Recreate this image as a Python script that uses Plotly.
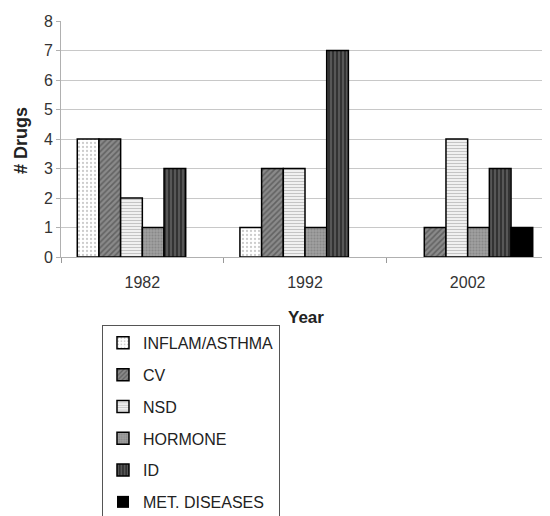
import plotly.graph_objects as go

years = ["1982", "1992", "2002"]
series_names = ["INFLAM/ASTHMA", "CV", "NSD", "HORMONE", "ID", "MET. DISEASES"]
inflam = [4, 1, 0]
cv = [4, 3, 1]
nsd = [2, 3, 4]
hormone = [1, 1, 1]
id_vals = [3, 7, 3]
met = [0, 0, 1]
y_ticks = [0, 1, 2, 3, 4, 5, 6, 7, 8]

values = [inflam, cv, nsd, hormone, id_vals, met]
patterns = [
    dict(shape=".", bgcolor="#ffffff", fgcolor="#9a9a9a", size=4, solidity=0.25),
    dict(shape="/", bgcolor="#8a8a8a", fgcolor="#3a3a3a", size=4, solidity=0.4),
    dict(shape="-", bgcolor="#ffffff", fgcolor="#8a8a8a", size=3, solidity=0.5),
    dict(shape=".", bgcolor="#a0a0a0", fgcolor="#707070", size=3, solidity=0.4),
    dict(shape="|", bgcolor="#333333", fgcolor="#9a9a9a", size=4, solidity=0.35),
    dict(shape="", bgcolor="#000000", fgcolor="#000000", size=4, solidity=0.3),
]
solid = ["#ffffff", "#8a8a8a", "#ffffff", "#a0a0a0", "#333333", "#000000"]

fig = go.Figure()
for name, vals, pat, col in zip(series_names, values, patterns, solid):
    fig.add_trace(go.Bar(
        x=years, y=vals, name=name, legendgroup=name,
        marker=dict(color=col, pattern=pat,
                    line=dict(color="#000000", width=[1.5 if v > 0 else 0 for v in vals])),
    ))

font_family = "Liberation Sans, Arial, sans-serif"
fig.update_layout(
    width=550, height=516,
    margin=dict(l=53, r=9, t=13, b=267, autoexpand=False),
    paper_bgcolor="white", plot_bgcolor="white",
    font=dict(family=font_family, size=16, color="#333333"),
    barmode="group", bargap=0.2, bargroupgap=0,
    showlegend=True,
    legend=dict(
        x=0.084, xanchor="left", y=-0.288, yanchor="top",
        bgcolor="white", bordercolor="#555555", borderwidth=1,
        font=dict(family=font_family, size=16, color="#222222"),
        traceorder="grouped", tracegroupgap=8, itemwidth=30,
    ),
    xaxis=dict(
        showline=True, linecolor="#b0b0b0", linewidth=1,
        ticks="outside", tickson="boundaries", ticklen=5, tickcolor="#999999",
        showgrid=False, tickfont=dict(size=16, color="#333333"),
        ticklabelstandoff=11,
    ),
    yaxis=dict(
        range=[0, 8], tickvals=y_ticks,
        showline=True, linecolor="#b0b0b0", linewidth=1,
        ticks="outside", ticklen=4, tickcolor="#b0b0b0",
        showgrid=True, gridcolor="#c8c8c8", gridwidth=1,
        zeroline=False, tickfont=dict(size=16, color="#333333"),
    ),
    annotations=[
        dict(text="<b>Year</b>", xref="paper", yref="paper", x=0.502, y=-0.258,
             xanchor="center", yanchor="middle",
             showarrow=False, font=dict(size=17, color="#222222")),
        dict(text="<b># Drugs</b>", xref="paper", yref="paper", x=-0.082, y=0.496,
             xanchor="center", yanchor="middle",
             textangle=-90, showarrow=False, font=dict(size=18, color="#222222")),
    ],
)

fig.write_html("out.html")
